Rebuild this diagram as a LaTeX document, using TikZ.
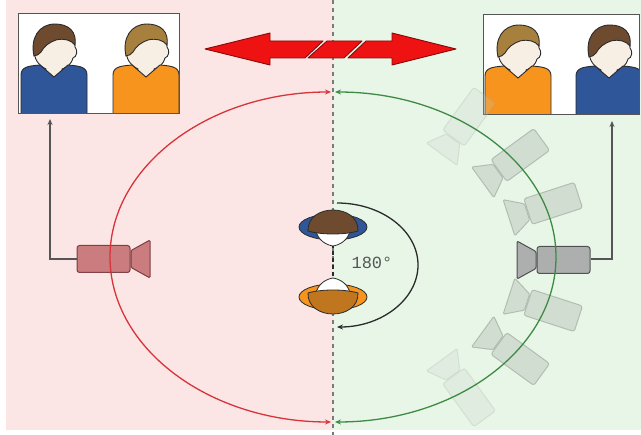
\documentclass[tikz,border=0pt]{standalone}
\usepackage{fontspec}
\newfontfamily\labelfont{Liberation Mono}
\usetikzlibrary{arrows.meta}

\definecolor{pinkbg}{HTML}{FBE6E5}
\definecolor{greenbg}{HTML}{E8F6E7}
\definecolor{redarc}{HTML}{D7333A}
\definecolor{greenarc}{HTML}{3E8A45}
\definecolor{dashcol}{HTML}{7A7A7A}
\definecolor{boxgray}{HTML}{555555}
\definecolor{outl}{HTML}{2B2B2B}
\definecolor{skincol}{HTML}{F7EEE4}
\definecolor{shirtblue}{HTML}{2F5698}
\definecolor{shirtorange}{HTML}{F7941D}
\definecolor{hairdark}{HTML}{6E4B2F}
\definecolor{hairlight}{HTML}{A8803E}
\definecolor{hairorange}{HTML}{C0761E}
\definecolor{arrowred}{HTML}{EE1212}
\definecolor{arrowedge}{HTML}{8A0A0A}
\definecolor{camred}{HTML}{C26A6C}
\definecolor{camredline}{HTML}{6E2C30}
\definecolor{camgray}{HTML}{A3A3A6}
\definecolor{camgrayline}{HTML}{3C3C3C}
\definecolor{ghostfill}{HTML}{C3CDC3}
\definecolor{ghostline}{HTML}{97A397}

\tikzset{
  frame/.style={draw=boxgray, line width=1.3},
  arcline/.style={line width=1.3, {Stealth[length=6pt,width=5pt]}-{Stealth[length=6pt,width=5pt]}},
  feed/.style={draw=boxgray, line width=1.2, -{Stealth[length=6pt,width=5pt]}},
  centerline/.style={draw=dashcol, line width=2, dash pattern=on 4pt off 4pt},
  breakarrow/.style={fill=arrowred, draw=arrowedge, line width=0.9, line join=round},
  pics/person/.style 2 args={code={
    % face and neck
    \path[fill=skincol, draw=outl, line width=0.9]
      (-8,-36) -- (-8,-44) .. controls (-16,-48) and (-20,-54) .. (-20,-64)
      .. controls (-20,-80) and (-11,-86) .. (0,-86)
      .. controls (13,-86) and (21,-79) .. (21,-66)
      .. controls (24,-63) and (23,-56) .. (19,-55)
      .. controls (17,-48) and (12,-45) .. (8,-44) -- (8,-36) -- cycle;
    % hair with a side parting
    \path[fill=#2, draw=outl, line width=0.9]
      (-20,-57) .. controls (-24,-75) and (-15,-89) .. (1,-89)
      .. controls (15,-89) and (23,-81) .. (21,-68)
      .. controls (17,-73) and (10,-75) .. (2,-73)
      .. controls (-4,-71) and (-10,-67) .. (-13,-61)
      .. controls (-15,-59) and (-17,-57) .. cycle;
    % shirt with v-neck
    \path[fill=#1, draw=outl, line width=0.9]
      (-33,2) -- (-33,-38) .. controls (-33,-46) and (-26,-47) .. (-14,-48)
      -- (0,-36) -- (14,-48) .. controls (26,-47) and (33,-46) .. (33,-38)
      -- (33,2) -- cycle;
  }},
  pics/camera/.style 2 args={code={
    \path[fill=#1, draw=#2, line width=1, rounded corners=2.5]
      (-18,-13.5) rectangle (35,13.5);
    \path[fill=#1, draw=#2, line width=1, rounded corners=1.2, line join=round]
      (-19,-8.5) -- (-38,-19) -- (-38,19) -- (-19,8.5) -- cycle;
  }},
  pics/topview/.style 2 args={code={
    \path[fill=#1, draw=outl, line width=0.8] (0,2) ellipse[x radius=34, y radius=13];
    \path[fill=white, draw=outl, line width=0.8]
      (-17,6) .. controls (-15,15) and (-7,20) .. (0,21)
      .. controls (7,20) and (15,15) .. (17,6) -- cycle;
    \path[fill=#2, draw=outl, line width=0.8]
      (-25,6) .. controls (-26,-22) and (26,-22) .. (25,6)
      .. controls (12,10) and (-12,10) .. cycle;
  }}
}

\begin{document}
\begin{tikzpicture}[x=1pt,y=-1pt]
\useasboundingbox (0,0) rectangle (641,435);

% two halves of the set
\fill[white] (0,0) rectangle (641,435);
\fill[pinkbg] (6,0) rectangle (333,430);
\fill[greenbg] (333,0) rectangle (641,430);

% the 180 degree line
\draw[centerline] (333,0) -- (333,435);
\draw[draw=outl, line width=2, dash pattern=on 4pt off 3pt] (333,244) -- (333,282);

% shot frames
\fill[white] (18,13) rectangle (179,113);
\begin{scope}
  \clip (18,13) rectangle (179,113);
  \pic at (54,113) {person={shirtblue}{hairdark}};
  \pic at (146,113) {person={shirtorange}{hairlight}};
\end{scope}
\node[frame, inner sep=0, minimum width=161, minimum height=100, anchor=north west] (lbox) at (18,13) {};

\fill[white] (483,14) rectangle (639,114);
\begin{scope}
  \clip (483,14) rectangle (639,114);
  \pic at (518,114) {person={shirtorange}{hairlight}};
  \pic at (609,114) {person={shirtblue}{hairdark}};
\end{scope}
\node[frame, inner sep=0, minimum width=156, minimum height=100, anchor=north west] (rbox) at (483,14) {};

% broken double arrow
\path[breakarrow] (205,49) -- (270,33) -- (270,41) -- (323,41) -- (305,58)
  -- (270,58) -- (270,65) -- cycle;
\path[breakarrow] (327,41) -- (362,41) -- (344,58) -- (308,58) -- cycle;
\path[breakarrow] (366,41) -- (392,41) -- (392,33) -- (456,49) -- (392,65)
  -- (392,58) -- (348,58) -- cycle;

% faded camera positions along the green side
\foreach \ang/\op in {54/0.22, 36/0.6, 18/0.6, -18/0.6, -36/0.6, -54/0.22}{
  \pic[opacity=\op, rotate=\ang] at ({333+223*cos(\ang)}, {257-165*sin(\ang)})
    {camera={ghostfill}{ghostline}};
}

% main cameras
\pic[opacity=0.85] (rcam) at (555,260) {camera={camgray}{camgrayline}};
\pic[opacity=0.85, rotate=180] (lcam) at (112,259) {camera={camred}{camredline}};

% camera paths
\coordinate (ctop) at (333,92);
\coordinate (cbot) at (333,422);
\draw[arcline, redarc] ([xshift=-2pt]ctop) arc[start angle=-90, end angle=-270, x radius=221, y radius=165];
\draw[arcline, greenarc] ([xshift=2pt]ctop) arc[start angle=-90, end angle=90, x radius=221, y radius=165];

% feeds from the cameras to their frames
\coordinate (lcamtail) at (77,259);
\coordinate (lfeed) at (50,119);
\draw[feed] (lcamtail) -| (lfeed);
\coordinate (rcamtail) at (591,259);
\coordinate (rfeed) at (612,121);
\draw[feed] (rcamtail) -| (rfeed);

% the two actors seen from above
\pic (actorA) at (333,225) {topview={shirtblue}{hairdark}};
\pic[rotate=180] (actorB) at (333,299) {topview={shirtorange}{hairorange}};

% rotation between the two set-ups
\coordinate (rotA) at (337,203);
\draw[draw=outl, line width=1.3, -{Stealth[length=6pt,width=5pt]}]
  (rotA) arc[start angle=-90, end angle=90, x radius=81, y radius=62];
\node[text=boxgray, font=\labelfont\fontsize{17}{17}\selectfont] (deg) at (372,263) {180°};
\end{tikzpicture}
\end{document}
